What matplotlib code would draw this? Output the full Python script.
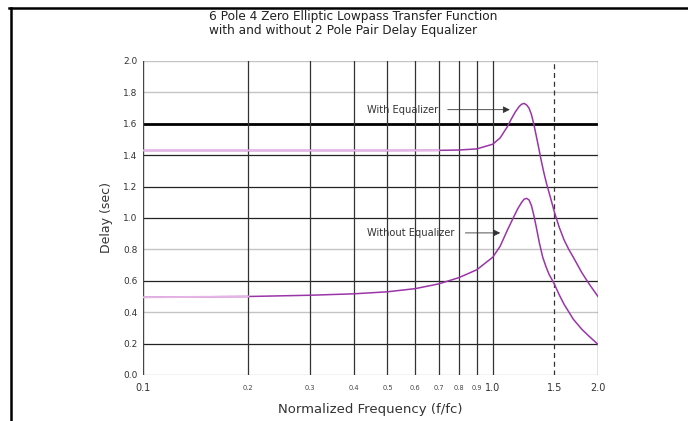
import numpy as np
import matplotlib
matplotlib.use("Agg")
import matplotlib.pyplot as plt
from matplotlib.lines import Line2D

# Delay curves
freq_without = [0.1, 0.2, 0.3, 0.4, 0.5, 0.6, 0.7, 0.8, 0.9, 1.0, 1.05, 1.1,
                1.15, 1.18, 1.21, 1.23, 1.25, 1.27, 1.29, 1.31, 1.33, 1.36,
                1.39, 1.42, 1.45, 1.5, 1.55, 1.6, 1.7, 1.8, 1.9, 2.0]
delay_without = [0.495, 0.50, 0.508, 0.517, 0.53, 0.55, 0.58, 0.62, 0.67, 0.75,
                 0.82, 0.92, 1.01, 1.06, 1.10, 1.12, 1.125, 1.115, 1.08, 1.02,
                 0.95, 0.84, 0.75, 0.69, 0.64, 0.58, 0.51, 0.45, 0.355, 0.29,
                 0.24, 0.195]

freq_with = [0.1, 0.3, 0.5, 0.7, 0.8, 0.9, 1.0, 1.05, 1.1, 1.13, 1.16, 1.19,
             1.21, 1.23, 1.25, 1.27, 1.29, 1.31, 1.33, 1.35, 1.375, 1.4,
             1.425, 1.45, 1.475, 1.5, 1.55, 1.6, 1.65, 1.7, 1.8, 1.9, 2.0]
delay_with = [1.43, 1.43, 1.43, 1.431, 1.433, 1.44, 1.47, 1.51, 1.58, 1.63,
              1.675, 1.71, 1.725, 1.73, 1.72, 1.70, 1.66, 1.60, 1.53, 1.46,
              1.37, 1.29, 1.22, 1.16, 1.10, 1.04, 0.94, 0.86, 0.80, 0.75,
              0.65, 0.57, 0.50]

ytick_vals = [0.0, 0.2, 0.4, 0.6, 0.8, 1.0, 1.2, 1.4, 1.6, 1.8, 2.0]
dark_rows = [0.2, 0.6, 1.0, 1.2, 1.4]
light_rows = [0.4, 0.8, 1.8, 2.0]
heavy_row = 1.6
minor_cols = [0.2, 0.3, 0.4, 0.5, 0.6, 0.7, 0.8, 0.9]
major_cols = [0.1, 1.0, 1.5, 2.0]

PURPLE = '#9a35a8'
PINK = '#e6b6e6'

fig = plt.figure(figsize=(6.88, 4.21), dpi=100)
fig.patch.set_facecolor('white')
ax = fig.add_axes([143 / 688, 1 - 375 / 421, 455 / 688, 314 / 421])
ax.set_xscale('log')
ax.set_xlim(0.1, 2.0)
ax.set_ylim(0.0, 2.0)

# grid
for y in light_rows + [0.0]:
    ax.axhline(y, color='#c4c4c4', lw=1.0, zorder=1)
for y in dark_rows:
    ax.axhline(y, color='#222222', lw=0.9, zorder=1)
ax.axhline(heavy_row, color='black', lw=2.0, zorder=1)
for x in minor_cols + [1.0]:
    ax.axvline(x, color='#333333', lw=0.9, zorder=1)
ax.axvline(1.5, color='#333333', lw=0.9, ls=(0, (4, 3)), zorder=1)
ax.axvline(2.0, color='#666666', lw=1.0, zorder=1)

for s in ax.spines.values():
    s.set_visible(False)
ax.axvline(0.1, color='#444444', lw=1.0, zorder=1)

# curves
fw = np.array(freq_with)
dw = np.array(delay_with)
fo = np.array(freq_without)
do = np.array(delay_without)
ax.plot(fw, dw, color=PURPLE, lw=1.1, zorder=3)
ax.plot(fo, do, color=PURPLE, lw=1.1, zorder=3)
mw = fw <= 0.7
ax.plot(fw[mw], dw[mw], color=PINK, lw=1.4, zorder=4)
mo = fo <= 0.2
ax.plot(fo[mo], do[mo], color=PINK, lw=1.4, zorder=4)

# ticks
ax.set_yticks(ytick_vals)
ax.set_yticklabels([f'{v:.1f}' for v in ytick_vals], fontsize=6.5, color='#333333')
ax.set_xticks(minor_cols + major_cols)
ax.set_xticklabels([])
ax.xaxis.set_minor_locator(matplotlib.ticker.NullLocator())
ax.tick_params(length=0, pad=4)
for x in minor_cols:
    ax.text(x, -0.085, f'{x:.1f}', ha='center', va='center', fontsize=4.8,
            color='#444444')
for x in major_cols:
    ax.text(x, -0.085, f'{x:.1f}', ha='center', va='center', fontsize=7,
            color='#333333')

ax.set_xlabel('Normalized Frequency (f/fc)', fontsize=9.5, color='#333333',
              labelpad=16)
ax.set_ylabel('Delay (sec)', fontsize=9, color='#333333', labelpad=7)

# annotations
ax.annotate('', xy=(1.14, 1.69), xytext=(0.73, 1.69),
            arrowprops=dict(arrowstyle='-|>', color='#333333', lw=0.6,
                            mutation_scale=10), zorder=5)
ax.text(0.436, 1.69, 'With Equalizer', fontsize=7.1, color='#333333',
        va='center', ha='left')
ax.annotate('', xy=(1.07, 0.905), xytext=(0.82, 0.905),
            arrowprops=dict(arrowstyle='-|>', color='#333333', lw=0.6,
                            mutation_scale=10), zorder=5)
ax.text(0.437, 0.905, 'Without Equalizer', fontsize=7.1, color='#333333',
        va='center', ha='left')

fig.text(209 / 688, 1 - 23.5 / 421,
         '6 Pole 4 Zero Elliptic Lowpass Transfer Function\n'
         'with and without 2 Pole Pair Delay Equalizer',
         fontsize=8.7, color='#222222', ha='left', va='center', linespacing=1.1)

# outer frame (top and left edges only)
fig.add_artist(Line2D([9 / 688, 1.0], [1 - 8 / 421, 1 - 8 / 421],
                      transform=fig.transFigure, color='black', lw=1.8))
fig.add_artist(Line2D([11 / 688, 11 / 688], [0.0, 1 - 8 / 421],
                      transform=fig.transFigure, color='black', lw=1.8))

fig.savefig('out.png', dpi=100)
